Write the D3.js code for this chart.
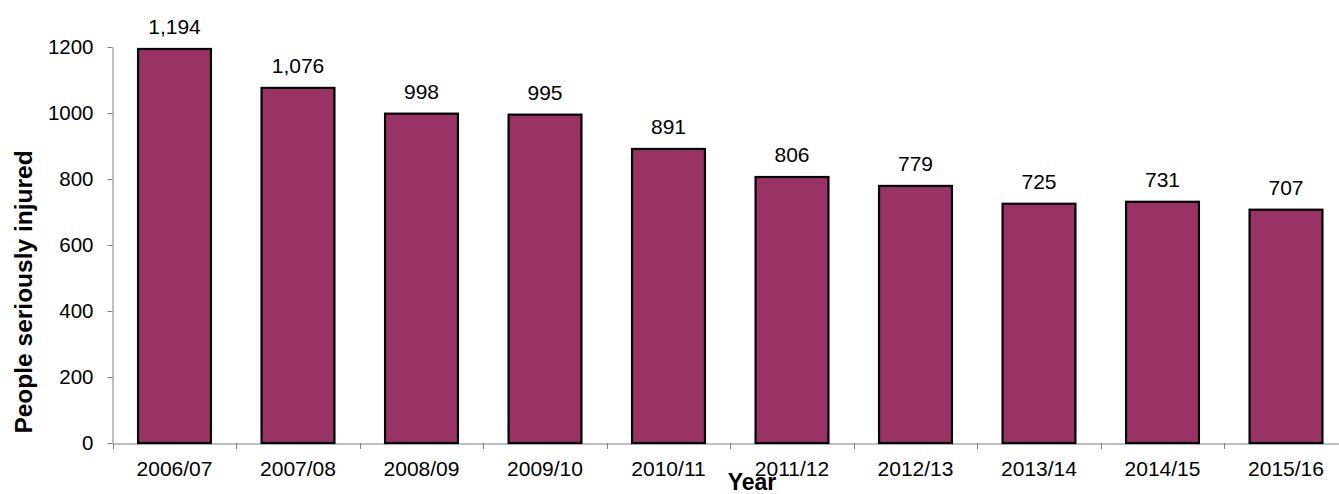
<!DOCTYPE html>
<html><head><meta charset="utf-8">
<script src="https://cdn.jsdelivr.net/npm/d3@7"></script>
<style>body{margin:0;background:#fff}svg{display:block}text{font-family:"Liberation Sans",Arial,sans-serif}</style>
</head><body><svg id="c" width="1339" height="494"></svg>
<script>
const categories = ["2006/07","2007/08","2008/09","2009/10","2010/11","2011/12","2012/13","2013/14","2014/15","2015/16"];
const values = [1194,1076,998,995,891,806,779,725,731,707];
const yTicks = [0,200,400,600,800,1000,1200];

const svg = d3.select("#c");
const x = d3.scaleBand().domain(categories).range([112.75, 1347.75]).paddingInner(0).paddingOuter(0);
const y = d3.scaleLinear().domain([0,1200]).range([443, 47]);
const step = x.step();
const bw = step*0.59;
const FONT = "Liberation Sans, Arial, sans-serif";

// axes
const yAxis = svg.append("g").attr("transform","translate(112.5,0)")
  .call(d3.axisLeft(y).tickValues(yTicks).tickFormat(d3.format("d")).tickSize(5).tickSizeOuter(0).tickPadding(14));
yAxis.select(".domain").attr("stroke","#808080");
yAxis.selectAll(".tick line").attr("stroke","#808080");
yAxis.selectAll("text").attr("font-size",20.5).attr("fill","#000").attr("font-family",FONT);

const xAxis = svg.append("g").attr("transform","translate(0,443.5)")
  .call(d3.axisBottom(x).tickSize(0).tickPadding(17.5));
xAxis.select(".domain").attr("stroke","#808080");
xAxis.selectAll("text").attr("font-size",21).attr("fill","#000").attr("font-family",FONT);
// tick marks between categories
const bounds = d3.range(categories.length + 1).map(i => x.range()[0] + step * i);
svg.append("g").selectAll("line").data(bounds)
  .join("line")
  .attr("x1",d=>Math.round(d)+0.5).attr("x2",d=>Math.round(d)+0.5)
  .attr("y1",443).attr("y2",449).attr("stroke","#808080");

// bars
svg.append("g").selectAll("rect").data(values).join("rect")
  .attr("x",(d,i)=>x(categories[i])+(step-bw)/2)
  .attr("y",d=>y(d))
  .attr("width",bw)
  .attr("height",d=>y(0)-y(d))
  .attr("fill","#993366").attr("stroke","#000").attr("stroke-width",2.2);

// value labels
svg.append("g").selectAll("text").data(values).join("text")
  .attr("x",(d,i)=>x(categories[i])+step/2)
  .attr("y",d=>y(d)-15)
  .attr("text-anchor","middle").attr("font-size",21).attr("fill","#000")
  .text(d=>d3.format(",")(d));

// axis titles
svg.append("text").attr("x",752).attr("y",490)
  .attr("text-anchor","middle").attr("font-size",23).attr("font-weight","bold").text("Year");
svg.append("text").attr("transform","translate(32,292) rotate(-90)")
  .attr("text-anchor","middle").attr("font-size",24.5).attr("font-weight","bold").text("People seriously injured");
</script></body></html>
